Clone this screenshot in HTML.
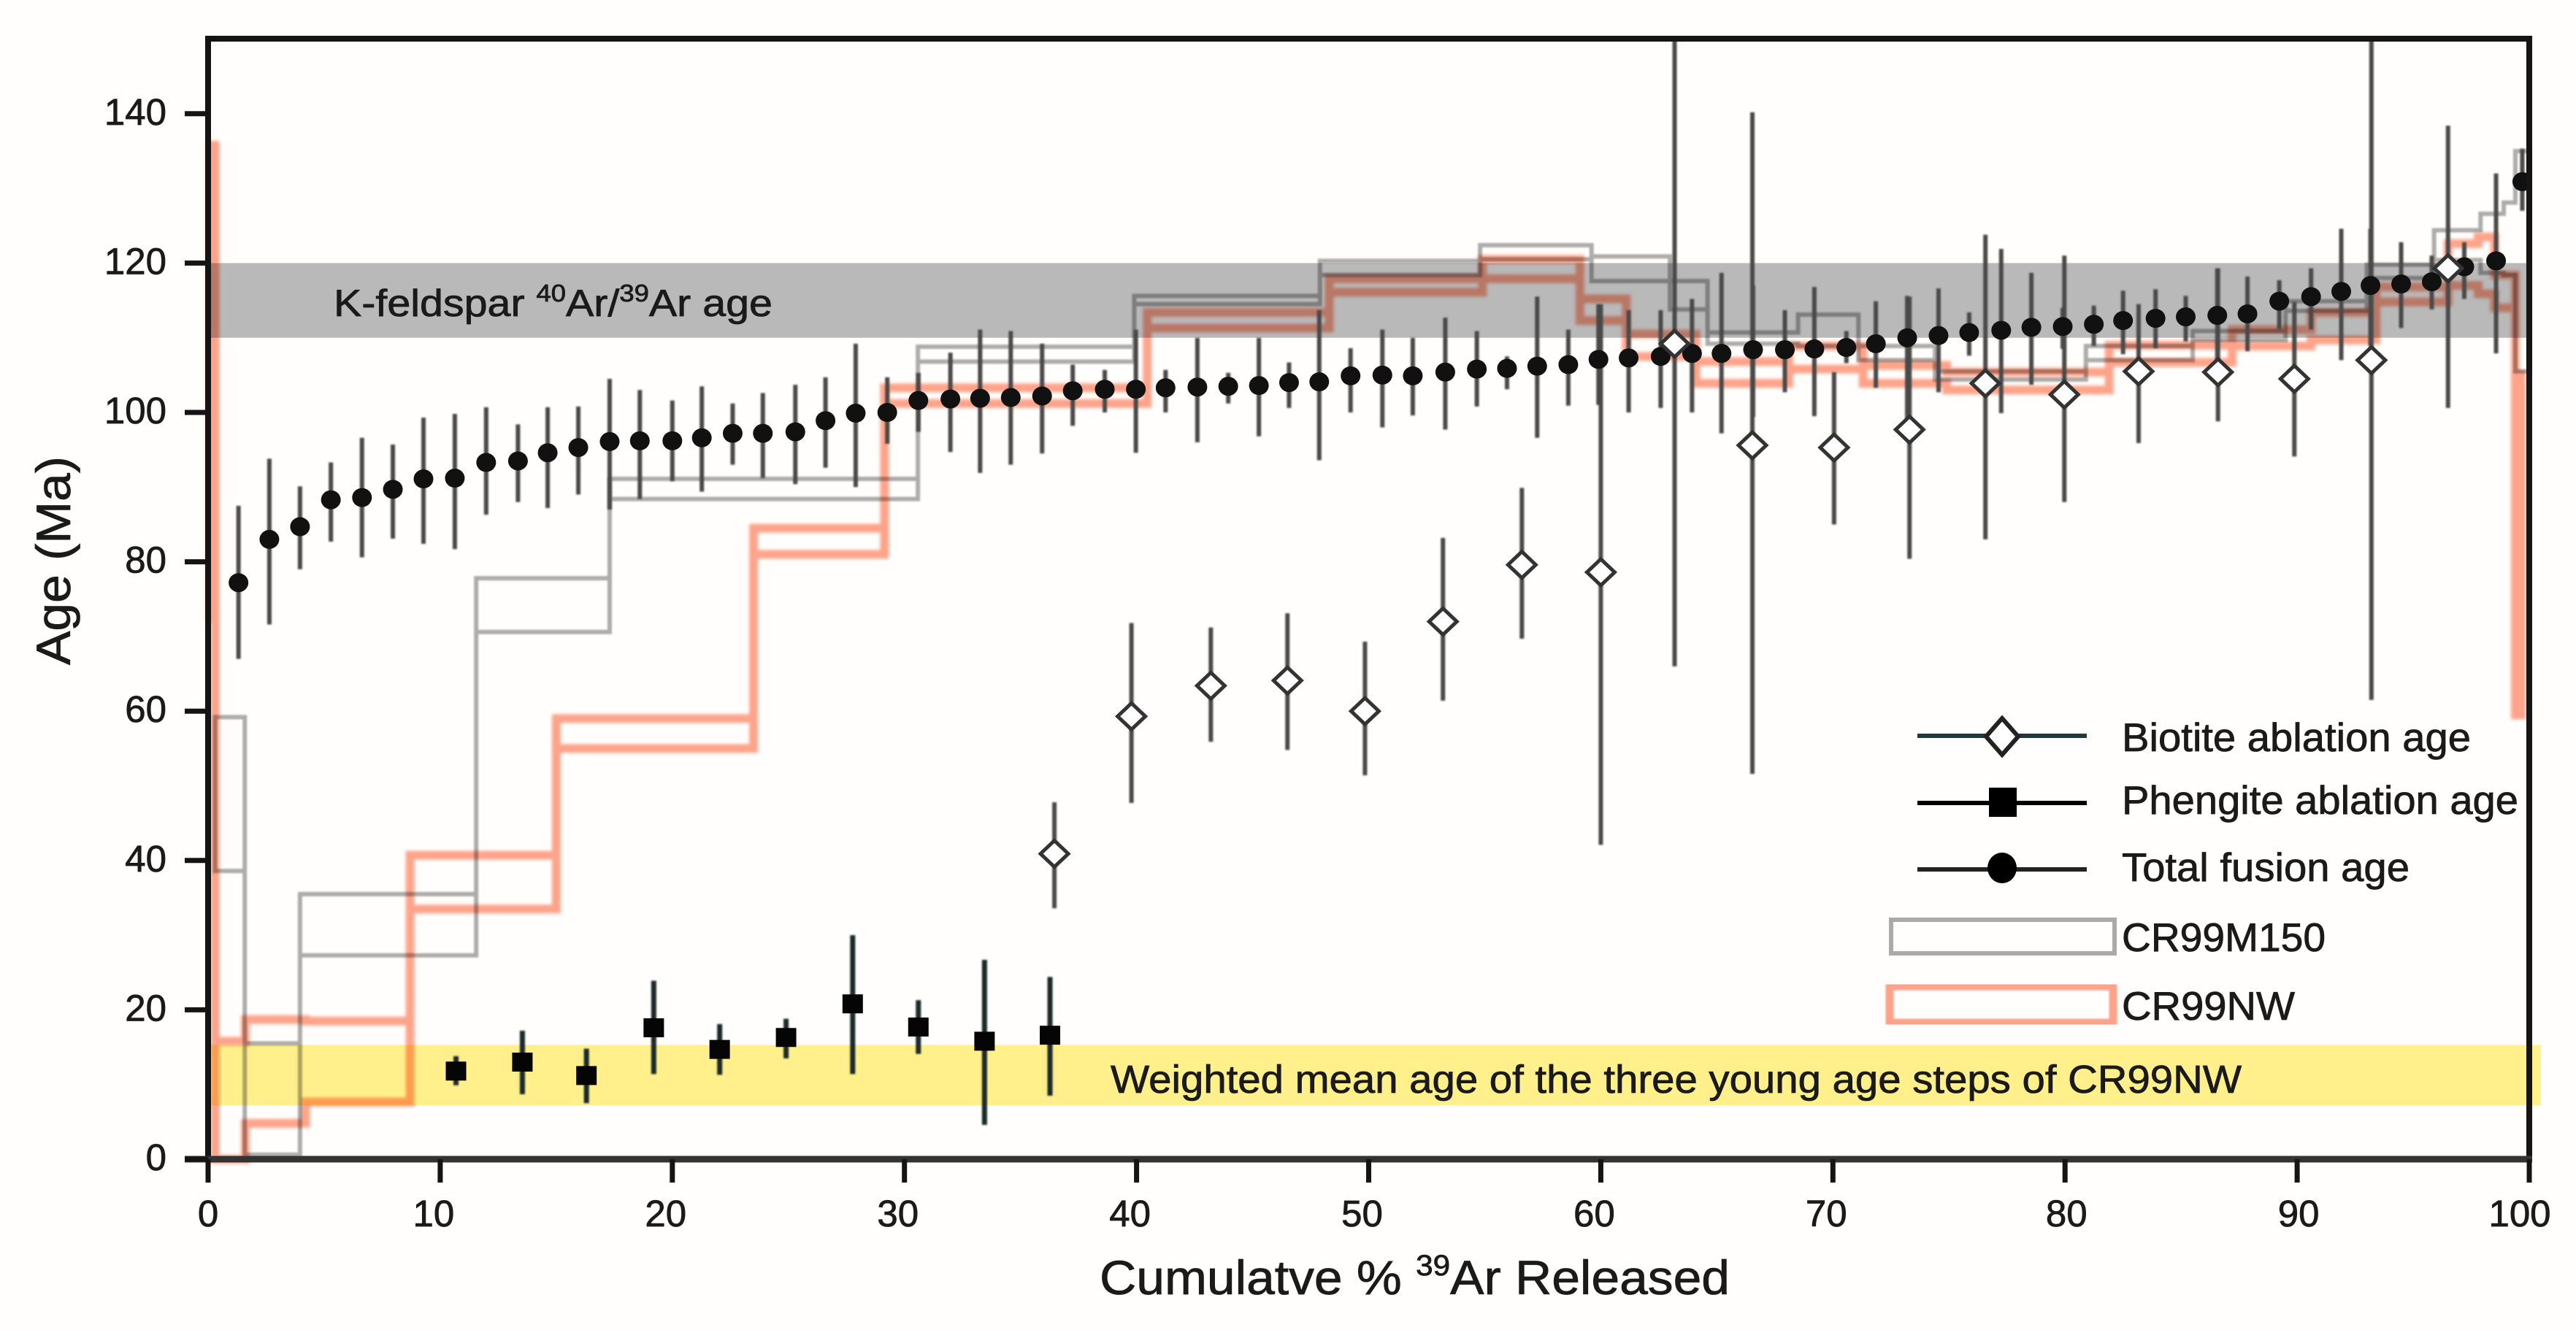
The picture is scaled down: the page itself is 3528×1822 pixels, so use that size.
<!DOCTYPE html>
<html>
<head>
<meta charset="utf-8">
<title>Cumulative 39Ar release age spectra</title>
<style>
html,body{margin:0;padding:0;background:#fffefc;}
svg{display:block;}
text{font-family:"Liberation Sans",sans-serif;fill:#1a1a1a;stroke:#1a1a1a;stroke-width:.8px;}
</style>
</head>
<body>
<svg id="chart" xmlns="http://www.w3.org/2000/svg" width="3528" height="1822" viewBox="0 0 3528 1822">
  <defs>
    <filter id="soft1" x="-5%" y="-5%" width="110%" height="110%"><feGaussianBlur stdDeviation="1"/></filter>
    <filter id="soft2" x="-5%" y="-5%" width="110%" height="110%"><feGaussianBlur stdDeviation="2"/></filter>
  </defs>
  <rect x="0" y="0" width="3528" height="1822" fill="#fffefc"/>
  <g id="bands"></g>
  <g id="stepsNw" filter="url(#soft2)" style="mix-blend-mode:multiply"></g>
  <g id="stepsM150" filter="url(#soft1)" style="mix-blend-mode:multiply"></g>
  <g id="errors" filter="url(#soft1)"></g>
  <g id="markers"></g>
  <g id="axes"></g>

  <text x="457" y="433" font-size="52" textLength="601" lengthAdjust="spacingAndGlyphs">K-feldspar <tspan font-size="33" dy="-20">40</tspan><tspan dy="20">Ar/</tspan><tspan font-size="33" dy="-20">39</tspan><tspan dy="20">Ar age</tspan></text>
  <text x="1521" y="1497" font-size="54" textLength="1549" lengthAdjust="spacingAndGlyphs">Weighted mean age of the three young age steps of CR99NW</text>
  <text x="1506" y="1773" font-size="66" textLength="863" lengthAdjust="spacingAndGlyphs">Cumulatve % <tspan font-size="40" dy="-26">39</tspan><tspan dy="26">Ar Released</tspan></text>
  <text transform="translate(96,911) rotate(-90)" x="0" y="0" font-size="66" textLength="286" lengthAdjust="spacingAndGlyphs">Age (Ma)</text>

  <g>
    <g>
      <line x1="2626" x2="2858" y1="1009" y2="1009" stroke="#ffb9a3" stroke-width="14" filter="url(#soft1)"/>
      <line x1="2626" x2="2858" y1="1008" y2="1008" stroke="#1f3a3a" stroke-width="6"/>
      <polygon points="2742,984 2764,1009 2742,1034 2720,1009" fill="#fff" stroke="#222" stroke-width="6"/>
      <text x="2906" y="1029" font-size="55" textLength="478" lengthAdjust="spacingAndGlyphs">Biotite ablation age</text>
    </g>
    <g>
      <line x1="2626" x2="2858" y1="1099" y2="1099" stroke="#ffb9a3" stroke-width="14" filter="url(#soft1)"/>
      <line x1="2626" x2="2858" y1="1100" y2="1100" stroke="#000" stroke-width="6"/>
      <rect x="2724" y="1079" width="38" height="40" fill="#000"/>
      <text x="2906" y="1115" font-size="55" textLength="543" lengthAdjust="spacingAndGlyphs">Phengite ablation age</text>
    </g>
    <g>
      <line x1="2626" x2="2858" y1="1191" y2="1191" stroke="#ffb9a3" stroke-width="14" filter="url(#soft1)"/>
      <line x1="2626" x2="2858" y1="1191" y2="1191" stroke="#222" stroke-width="6"/>
      <ellipse cx="2742" cy="1189" rx="20" ry="21" fill="#000"/>
      <text x="2906" y="1207" font-size="55" textLength="394" lengthAdjust="spacingAndGlyphs">Total fusion age</text>
    </g>
    <g>
      <rect x="2590" y="1260" width="306" height="46" fill="none" stroke="#aaa" stroke-width="6"/>
      <text x="2906" y="1303" font-size="55" textLength="279" lengthAdjust="spacingAndGlyphs">CR99M150</text>
    </g>
    <g>
      <rect x="2588" y="1351" width="306" height="50" fill="none" stroke="#ffa28a" stroke-width="11" filter="url(#soft1)"/>
      <text x="2906" y="1397" font-size="55" textLength="237" lengthAdjust="spacingAndGlyphs">CR99NW</text>
    </g>
  </g>
</svg>
<script>
// Axis tick labels
const xTicks = [0,10,20,30,40,50,60,70,80,90,100];
const yTicks = [0,20,40,60,80,100,120,140];

// Reference bands (Ma)
const kfsBand = [110,120];
const meanBand = [7.2,15.3];

// CR99M150 spectrum
const m150Edges = [0.3,1.58,3.96,11.55,17.3,30.58,39.9,47.9,54.8,59.6,62.98,64.6,68.5,71.1,74.4,80.9,85.5,89.5,93,95.9,97.9,98.9,99.4,100];
const m150High = [59.2,15.5,35.5,77.8,91.1,108.8,115.6,120.3,122.4,120.9,117.6,110.7,113.1,108.9,105.5,108.9,110.9,114.9,119.8,124.4,126.6,128.1,135];
const m150Low = [38.6,0.6,27.3,70.6,88.4,106.8,114.5,118.4,120.5,117.6,113.8,109.2,108.9,107,104.4,107,109.7,113.6,118,120.4,118.7,118.4,105.5];

// CR99NW spectrum
const nwEdges = [0.1,0.3,1.6,4.2,8.7,15,23.5,29.14,40.46,48.3,54.9,59.1,61.1,64.1,68.1,71.3,74.9,81.9,87.2,90.6,93.4,96.5,97.8,98.5,99.4,99.65];
const nwHigh = [135.8,15.8,18.7,18.5,40.7,59,84.5,103.3,113.4,117.9,120.5,115.2,110.5,106.8,108.9,106.3,105.4,109,111.1,113.4,116.8,122.6,123.5,118.4,105];
const nwLow = [72.4,0,4.8,7.65,33.5,55,81,101.2,111.3,116.1,117.9,112.3,107.5,103.9,105.8,103.9,103,106.7,108.9,109.7,114.8,117,115.9,114,59.5];

// Total fusion ages
const fusionX = [1.31,2.64,3.96,5.29,6.63,7.96,9.28,10.63,11.98,13.35,14.63,15.95,17.3,18.6,20,21.27,22.6,23.9,25.3,26.6,27.9,29.26,30.6,31.98,33.26,34.58,35.93,37.25,38.63,39.97,41.25,42.62,43.95,45.27,46.57,47.87,49.22,50.59,51.9,53.3,54.66,55.96,57.26,58.6,59.9,61.2,62.58,63.93,65.2,66.56,67.93,69.2,70.58,71.85,73.2,74.55,75.87,77.25,78.55,79.9,81.24,82.5,83.9,85.2,86.56,87.86,89.23,90.6,91.9,93.16,94.48,95.8,97.2,98.57,99.7];
const fusionAge = [77.2,83,84.7,88.3,88.6,89.7,91.1,91.2,93.3,93.5,94.6,95.3,96.1,96.2,96.2,96.6,97.2,97.2,97.4,98.9,99.9,100,101.6,101.8,101.9,102,102.2,102.9,103.1,103.1,103.3,103.4,103.5,103.6,104,104.1,104.9,105,104.9,105.4,105.8,105.9,106.2,106.4,107.1,107.3,107.5,107.9,107.9,108.4,108.4,108.5,108.7,109.2,110,110.3,110.7,111,111.4,111.5,111.8,112.3,112.6,112.8,113,113.2,114.9,115.5,116.2,117,117.2,117.5,119.5,120.3,130.9];
const fusionTop = [87.5,93.8,90.1,93.3,96.6,95.7,99.3,99.8,100.7,98.4,100.7,100.8,104.5,103,101.6,103.5,101.2,102.6,103.7,104.7,109.2,104.7,105.3,108,111.1,110.9,109.2,106.4,105.7,111.1,105.7,110,105.3,110,106.7,113.7,108.6,111.1,110,112.7,110.9,107.5,115.5,111.1,114.5,113.7,113.7,115.2,118.7,117,113.7,116.8,110.9,114.9,115.6,116.6,113.4,121.9,118.7,114,114.3,116.3,116.5,115.6,119.3,118.2,117.7,119.3,124.6,124.6,122.8,121,122.8,132,135.3];
const fusionBottom = [67,71.6,79,82.7,80.6,83.1,82.4,81.7,86.3,88,87.2,89,87,88.4,90.8,89.4,93,91.2,90.4,92.6,90,95.8,97.4,94.7,91.9,93,94.5,98.2,100,94.6,100,96,101.2,96.8,100.6,93.6,100,98,99.6,97.7,100.8,103.1,96.6,100.9,101,100,100.6,100,97.2,99.4,102.7,99.5,106.6,103.3,99,102.7,107.6,99.9,103.7,108.5,108.9,107.8,108.6,109.5,107,108.2,111.1,111.1,107,108.9,111.3,113.8,115.2,107.9,127];

// Biotite ablation ages
const biotiteX = [36.46,39.78,43.2,46.5,49.84,53.2,56.6,60,63.18,66.53,70.05,73.3,76.57,79.97,83.17,86.59,89.88,93.2,96.5];
const biotiteAge = [40.9,59.3,63.4,64.1,60,72,79.6,78.6,109.2,95.6,95.3,97.7,103.9,102.4,105.5,105.4,104.5,107,119.3];
const biotiteTop = [47.8,71.8,71.2,73.1,69.3,83.2,89.9,114.5,150,140.2,105.4,115.5,123.8,121,114.5,119.3,114.8,150,138.4];
const biotiteBottom = [33.6,47.7,55.9,54.8,51.4,61.4,69.7,42.1,66,51.6,85,80.4,83,88,95.9,98.8,94.1,61.5,100.6];

// Phengite ablation ages
const phengiteX = [10.68,13.54,16.3,19.2,22.04,24.9,27.77,30.6,33.45,36.27];
const phengiteAge = [11.8,13,11.2,17.6,14.7,16.3,20.8,17.7,15.8,16.6];
const phengiteTop = [13.8,17.2,14.8,23.9,18.1,18.8,30,21.3,26.7,24.4];
const phengiteBottom = [9.9,8.7,7.5,11.4,11.3,13.5,11.4,14.1,4.6,8.5];

const NS = 'http://www.w3.org/2000/svg';
const xScale = function (v) { return 285 + 31.79 * v; };
const yScale = function (v) { return 1588 - 10.23 * v; };

function make(tag, parent, attrs) {
  const el = document.createElementNS(NS, tag);
  Object.keys(attrs).forEach(function (k) { el.setAttribute(k, attrs[k]); });
  parent.appendChild(el);
  return el;
}

// Bands
const bands = document.getElementById('bands');
const kfs = make('rect', bands, { x: xScale(0), width: xScale(100) - xScale(0), y: yScale(kfsBand[1]), height: yScale(kfsBand[0]) - yScale(kfsBand[1]), fill: '#b9b9b9' });


const mean = make('rect', bands, { x: xScale(0), width: xScale(100.5) - xScale(0), y: yScale(meanBand[1]), height: yScale(meanBand[0]) - yScale(meanBand[1]), fill: '#fff08c' });



// Step spectra
function stepPath(edges, high, low) {
  let d = 'M' + xScale(edges[0]) + ' ' + yScale(low[0]);
  for (let i = 0; i < high.length; i++) {
    d += 'L' + xScale(edges[i]) + ' ' + yScale(high[i]) + 'L' + xScale(edges[i + 1]) + ' ' + yScale(high[i]);
  }
  for (let i = low.length - 1; i >= 0; i--) {
    d += 'L' + xScale(edges[i + 1]) + ' ' + yScale(low[i]) + 'L' + xScale(edges[i]) + ' ' + yScale(low[i]);
  }
  return d + 'Z';
}
const nwLine = make('path', document.getElementById('stepsNw'), { d: stepPath(nwEdges, nwHigh, nwLow), fill: 'none', stroke: '#ffa48c', 'stroke-width': 12 });


const m150Line = make('path', document.getElementById('stepsM150'), { d: stepPath(m150Edges, m150High, m150Low), fill: 'none', stroke: '#adadad', 'stroke-width': 6 });



// Error bars
const errG = document.getElementById('errors');
function drawErrors(xs, tops, bottoms, color, width, name) {
  xs.forEach(function (x, i) {
    const bar = make('line', errG, { x1: xScale(x), x2: xScale(x), y1: yScale(tops[i]), y2: yScale(bottoms[i]), stroke: color, 'stroke-width': width });
    
    
  });
}
drawErrors(fusionX, fusionTop, fusionBottom, '#4a4a4a', 6, 'fusion-error-bar');
drawErrors(biotiteX, biotiteTop, biotiteBottom, '#4a4a4a', 6, 'biotite-error-bar');
drawErrors(phengiteX, phengiteTop, phengiteBottom, '#1c2a2a', 7, 'phengite-error-bar');

// Markers
const markG = document.getElementById('markers');
fusionX.forEach(function (x, i) {
  const m = make('ellipse', markG, { cx: xScale(x), cy: yScale(fusionAge[i]), rx: 13.5, ry: 13, fill: '#111' });
  
  
});
biotiteX.forEach(function (x, i) {
  const cx = xScale(x), cy = yScale(biotiteAge[i]);
  const m = make('polygon', markG, { points: cx + ',' + (cy - 18) + ' ' + (cx + 19) + ',' + cy + ' ' + cx + ',' + (cy + 18) + ' ' + (cx - 19) + ',' + cy, fill: '#fff', stroke: '#333', 'stroke-width': 5 });
  
  
});
phengiteX.forEach(function (x, i) {
  const m = make('rect', markG, { x: xScale(x) - 14, y: yScale(phengiteAge[i]) - 13, width: 28, height: 26, fill: '#050505' });
  
  
});

// Axes
const axes = document.getElementById('axes');
const frame = make('path', axes, { d: 'M' + xScale(100) + ' ' + yScale(0) + 'V53H' + xScale(0) + 'V' + yScale(0), fill: 'none', stroke: '#141414', 'stroke-width': 8 });


const xAxis = make('line', axes, { x1: 253, x2: xScale(100) + 4, y1: yScale(0), y2: yScale(0), stroke: '#333', 'stroke-width': 9 });


xTicks.forEach(function (v) {
  const t = make('line', axes, { x1: xScale(v), x2: xScale(v), y1: yScale(0), y2: 1620, stroke: '#141414', 'stroke-width': 7 });
  
  
  const offset = v === 0 ? 0 : (v >= 80 ? (v === 100 ? -13 : 2) : -9);
  const label = make('text', axes, { x: xScale(v) + offset, y: 1680, 'font-size': 51, 'text-anchor': 'middle' });
  label.textContent = String(v);
  
  
});
yTicks.forEach(function (v) {
  const t = make('line', axes, { x1: 253, x2: xScale(0), y1: yScale(v), y2: yScale(v), stroke: '#141414', 'stroke-width': 7 });
  
  
  const label = make('text', axes, { x: 228, y: yScale(v) + 15, 'font-size': 51, 'text-anchor': 'end' });
  label.textContent = String(v);
  
  
});
</script>
</body>
</html>
